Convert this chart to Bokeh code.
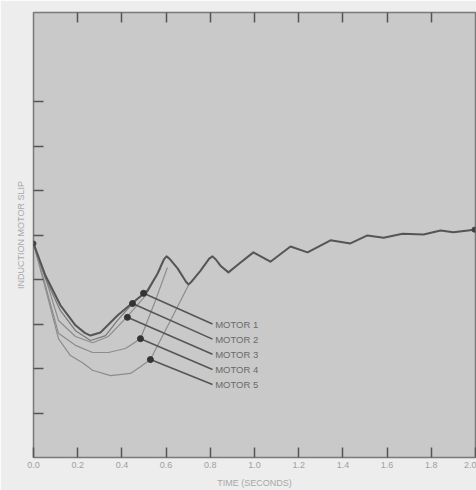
from bokeh.plotting import figure
from bokeh.models import Range1d, FixedTicker, LinearAxis
from bokeh.embed import file_html
from bokeh.resources import INLINE
from bokeh.core.properties import value

# ---- data (y in arbitrary slip units) ----
m1_t = [0, 0.054, 0.122, 0.19, 0.232, 0.258, 0.303, 0.38, 0.439, 0.516, 0.561, 0.59, 0.602, 0.615,
        0.652, 0.69, 0.701, 0.715, 0.756, 0.795, 0.81, 0.825, 0.846, 0.882, 0.937, 0.995,
        1.072, 1.163, 1.24, 1.344, 1.434, 1.511, 1.584, 1.67, 1.765, 1.842, 1.90, 1.995]
m1_s = [4.81, 4.09, 3.42, 2.97, 2.80, 2.74, 2.81, 3.19, 3.44, 3.75, 4.13, 4.45, 4.52, 4.47,
        4.25, 3.95, 3.89, 3.95, 4.20, 4.47, 4.52, 4.45, 4.31, 4.16, 4.38, 4.61,
        4.40, 4.74, 4.61, 4.88, 4.81, 4.99, 4.94, 5.03, 5.01, 5.10, 5.06, 5.12]

m2_t = [0, 0.054, 0.122, 0.19, 0.258, 0.326, 0.38, 0.448]
m2_s = [4.81, 4.02, 3.30, 2.85, 2.63, 2.74, 3.08, 3.46]

m3_t = [0, 0.054, 0.113, 0.19, 0.267, 0.339, 0.421, 0.507, 0.575]
m3_s = [4.81, 4.04, 3.08, 2.72, 2.58, 2.72, 3.15, 3.64, 4.25]

m4_t = [0, 0.054, 0.113, 0.19, 0.267, 0.339, 0.416, 0.484, 0.552, 0.606]
m4_s = [4.81, 3.87, 2.79, 2.52, 2.36, 2.36, 2.45, 2.67, 3.53, 4.27]

m5_t = [0, 0.054, 0.113, 0.167, 0.222, 0.267, 0.348, 0.439, 0.484, 0.529, 0.62, 0.701]
m5_s = [4.81, 3.80, 2.67, 2.29, 2.13, 1.96, 1.84, 1.89, 2.04, 2.20, 3.08, 3.87]

motor_labels = ["MOTOR 1", "MOTOR 2", "MOTOR 3", "MOTOR 4", "MOTOR 5"]
label_t = [0.81, 0.81, 0.81, 0.81, 0.81]
label_s = [3.00, 2.66, 2.32, 1.98, 1.64]
tip_t = [0.498, 0.448, 0.425, 0.484, 0.529]
tip_s = [3.69, 3.46, 3.15, 2.67, 2.20]

x_ticks = [0.0, 0.2, 0.4, 0.6, 0.8, 1.0, 1.2, 1.4, 1.6, 1.8, 2.0]
x_tick_labels = {0.0: "0.0", 0.2: "0.2", 0.4: "0.4", 0.6: "0.6", 0.8: "0.8", 1.0: "1.0",
                 1.2: "1.2", 1.4: "1.4", 1.6: "1.6", 1.8: "1.8", 2.0: "2.0"}
y_ticks = [1, 2, 3, 4, 5, 6, 7, 8]

FONT = "Liberation Sans"
BG_OUT = "#ededed"
BG_IN = "#c9c9c9"

p = figure(width=476, height=490, output_backend="svg", toolbar_location=None,
           x_range=Range1d(0, 2.0), y_range=Range1d(0, 10),
           min_border_left=33, min_border_right=1, min_border_top=12, min_border_bottom=33,
           background_fill_color=BG_IN, border_fill_color=BG_OUT)
p.grid.visible = False
p.outline_line_color = "#7a7a7a"
p.outline_line_width = 1.5

# bottom axis
xa = p.xaxis[0]
xa.ticker = FixedTicker(ticks=x_ticks)
xa.major_label_overrides = x_tick_labels
xa.major_tick_in = 10
xa.major_tick_out = 0
xa.major_tick_line_color = "#555555"
xa.major_tick_line_width = 1.5
xa.minor_tick_line_color = None
xa.axis_line_color = None
xa.major_label_text_font = FONT
xa.major_label_text_font_size = "9px"
xa.major_label_text_color = "#a0a0a0"
xa.major_label_standoff = 4
xa.axis_label = "TIME (SECONDS)"
xa.axis_label_text_font = FONT
xa.axis_label_text_font_size = "9px"
xa.axis_label_text_font_style = "normal"
xa.axis_label_text_color = "#a8a8a8"
xa.axis_label_standoff = 7

# left axis
ya = p.yaxis[0]
ya.ticker = FixedTicker(ticks=y_ticks)
ya.major_tick_in = 10
ya.major_tick_out = 0
ya.major_tick_line_color = "#555555"
ya.major_tick_line_width = 1.5
ya.minor_tick_line_color = None
ya.axis_line_color = None
ya.major_label_text_font_size = "0px"
ya.major_label_text_color = None
ya.major_label_standoff = 0
ya.axis_label = "INDUCTION MOTOR SLIP"
ya.axis_label_text_font = FONT
ya.axis_label_text_font_size = "9px"
ya.axis_label_text_font_style = "normal"
ya.axis_label_text_color = "#a8a8a8"
ya.axis_label_standoff = 8

# top axis (ticks only)
ta = LinearAxis(ticker=FixedTicker(ticks=x_ticks[1:-1]), major_tick_in=10, major_tick_out=0,
                major_tick_line_color="#555555", major_tick_line_width=1.5,
                minor_tick_line_color=None, axis_line_color=None,
                major_label_text_font_size="0px", major_label_text_color=None,
                major_label_standoff=0)
p.add_layout(ta, "above")

# curves
lw = 1.2
p.line(m5_t, m5_s, line_color="#8c8c8c", line_width=lw)
p.line(m4_t, m4_s, line_color="#8c8c8c", line_width=lw)
p.line(m3_t, m3_s, line_color="#8c8c8c", line_width=lw)
p.line(m2_t, m2_s, line_color="#7a7a7a", line_width=lw)
p.line(m1_t, m1_s, line_color="#555555", line_width=2, line_join="round")
p.scatter([m1_t[0]], [m1_s[0]], size=5, color="#444444")
p.scatter([m1_t[-1]], [m1_s[-1]], size=5, color="#444444")

# arrows to labels
p.segment(x0=label_t, y0=label_s, x1=tip_t, y1=tip_s, line_color="#555555", line_width=1.6)
p.scatter(tip_t, tip_s, size=6, color="#333333")
p.text(x=[t + 0.012 for t in label_t], y=label_s, text=motor_labels,
       text_font=value(FONT), text_font_size="9.5px", text_color="#6a6a6a",
       text_baseline="middle", text_align="left")

open("out.html", "w").write(file_html(p, INLINE))
